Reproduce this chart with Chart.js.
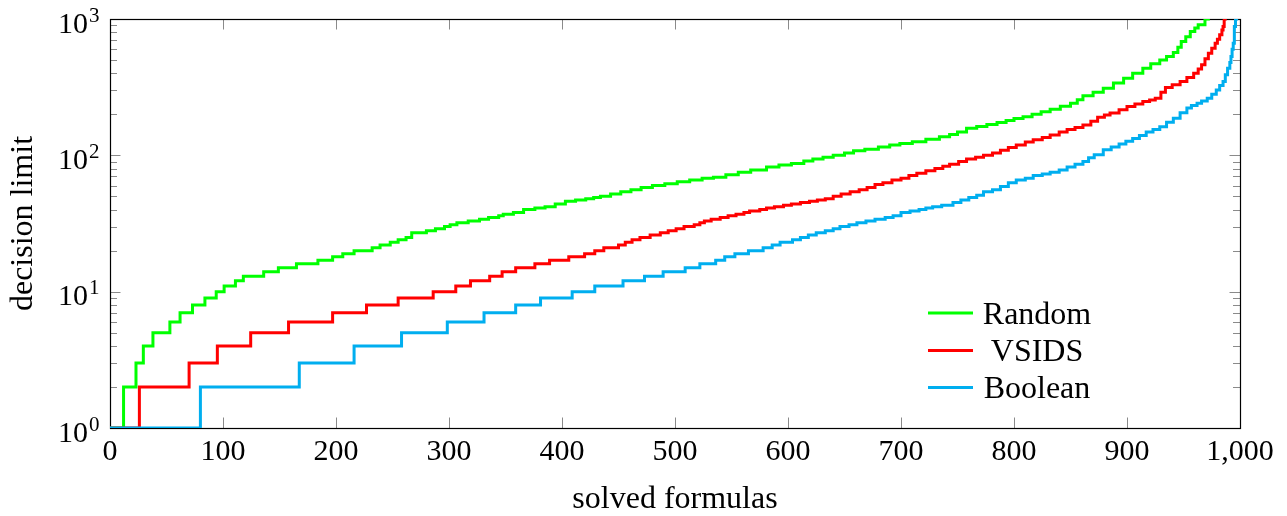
<!DOCTYPE html>
<html>
<head>
<meta charset="utf-8">
<script src="https://cdn.jsdelivr.net/npm/chart.js@4/dist/chart.umd.min.js"></script>
<style>
  html, body { margin: 0; padding: 0; background: #fff; }
  #wrap { width: 1287px; height: 516px; }
</style>
</head>
<body>
<div id="wrap"><canvas id="c" width="1287" height="516"></canvas></div>
<script>
// Solved-formula counts (x) at which each decision limit level (y) is reached.
const randomX = [0,12,23,29.5,38,53,62,73,84,94,101,111,118,136,149,165,184,197,206,216,232,239,248,255,262,267,280,288,296,301,307,317,327,335,344,348,357,366,376,385,394,403,412,421,428,434,443,452,461,470,480,491,502,513,524,534,545,556,567,581,592,603,614,622,631,640,650,658,668,680,690,699,710,722,734,743,750,758,767,776,785,793,800,808,816,824,832,841,850,856,861,870,879,888,897,905,914,921,929,935,941,945,948,952,956,960,963,969,972];
const randomY = [1,2,3,4,5,6,7,8,9,10,11,12,13,14,15,16,17,18,19,20,21,22,23,24,25,27,28,29,30,31,32,33,34,35,36,37,38,40,41,42,44,46,47,48,49,50,52,54,56,58,60,62,64,66,68,69,72,75,78,82,85,87,91,94,97,100,104,108,111,115,119,122,126,131,137,142,148,158,163,168,174,180,186,192,200,209,218,229,241,256,273,290,311,340,368,400,436,470,501,530,567,620,683,740,809,860,906,1000,1100];

const vsidsX = [0,26,70,95,124.5,158,197,227,255,286,306,319,336,347,359,376,389,406,420,429,437,450,456,462,469,478,487,494,501,508,517,522,526,532,540,547,554,561,566,575,581,588,596,603,611,619,626,633,640,647,655,663,670,677,684,692,700,707,714,722,730,737,743,751,758,766,773,781,788,795,802,810,817,825,832,840,847,854,861,868,874,880,885,893,900,907,914,920,925,930,934,940,947,953,959,963,966,969,972,975,978,980,982,984,985,986,987];
const vsidsY = [1,2,3,4,5,6,7,8,9,10,11,12,13,14,15,16,17,18,19,20,21,22,23,24,25,26,27,28,29,30,31,32,33,34,35,36,37,38,39,40,41,42,43,44,45,46,47,48,50,52,54,56,58,61,63,66,68,71,74,77,80,83,86,90,94,97,100,104,109,114,119,125,130,135,141,148,155,160,167,178,190,198,204,216,228,238,248,255,262,290,315,330,348,373,400,430,461,510,561,610,664,710,765,830,880,1000,1100];

const booleanX = [0,80,167.5,216,258,298.5,331,359,381,409,429,454,473,489.5,509,522,536,544,553,565,578,586,593,604,611,618,625,633,640,646,654,661,669,677,686,693,700,708,716,722,728,736,746,753,760,767,773,781,788,795,802,810,817,825,832,840,847,854,861,866,871,879,886,893,899,905,911,917,923,929,935,941,947,953,957,962,966,971,975,979,982,985,987,989,991,992,993,994,995,996,997];
const booleanY = [1,2,3,4,5,6,7,8,9,10,11,12,13,14,15,16,17,18,19,20,21,22,23,24,25,26,27,28,29,30,31,32,33,34,35,36,38,39,40,41,42,43,45,47,49,51,54,56,59,63,66,68,71,73,75,78,82,86,90,96,101,110,115,121,127,133,140,148,155,162,175,187,205,222,232,241,250,262,280,302,325,348,390,436,480,530,600,664,880,1000,1100];

const seriesNames = ['Random', 'VSIDS', 'Boolean'];
const seriesColors = ['#00ff00', '#ff0000', '#00aeef'];

// Axis ticks
const xTickValues = [0,100,200,300,400,500,600,700,800,900,1000];
const yTickExponents = [0,1,2,3];

const FONT = "'Liberation Serif', 'DejaVu Serif', serif";

function pairs(xs, ys) { return xs.map((x, i) => ({ x, y: ys[i] })); }

function lineSet(i, xs, ys) {
  return {
    label: seriesNames[i],
    data: pairs(xs, ys),
    borderColor: seriesColors[i],
    backgroundColor: seriesColors[i],
    borderWidth: 3,
    pointRadius: 0,
    stepped: 'before',
    fill: false,
    order: 2 - i
  };
}

// Box frame, inward ticks, superscript log labels and the legend
const axisDecor = {
  id: 'axisDecor',
  beforeDatasetsDraw(chart) {
    const { ctx, chartArea: a, scales: { x, y } } = chart;
    ctx.save();
    ctx.lineWidth = 1;
    ctx.strokeStyle = '#8a8a8a';
    ctx.beginPath();
    for (const v of xTickValues) {
      const px = Math.round(x.getPixelForValue(v)) + 0.5;
      ctx.moveTo(px, a.bottom); ctx.lineTo(px, a.bottom - 10.5);
      ctx.moveTo(px, a.top); ctx.lineTo(px, a.top + 10.5);
    }
    for (const e of yTickExponents) {
      const py = Math.round(y.getPixelForValue(Math.pow(10, e))) + 0.5;
      ctx.moveTo(a.left, py); ctx.lineTo(a.left + 10.5, py);
      ctx.moveTo(a.right, py); ctx.lineTo(a.right - 10.5, py);
      if (e < yTickExponents[yTickExponents.length - 1]) {
        for (let m = 2; m <= 9; m++) {
          const q = Math.round(y.getPixelForValue(m * Math.pow(10, e))) + 0.5;
          ctx.moveTo(a.left, q); ctx.lineTo(a.left + 7, q);
          ctx.moveTo(a.right, q); ctx.lineTo(a.right - 7, q);
        }
      }
    }
    ctx.stroke();
    ctx.strokeStyle = '#000';
    ctx.lineWidth = 1.2;
    ctx.strokeRect(a.left + 0.5, a.top + 0.5, a.right - a.left, a.bottom - a.top);
    ctx.restore();
  },
  afterDraw(chart) {
    const { ctx, chartArea: a, scales: { y } } = chart;
    ctx.save();
    ctx.fillStyle = '#000';
    // y tick labels: 10 with superscript exponent
    for (const e of yTickExponents) {
      const py = y.getPixelForValue(Math.pow(10, e));
      ctx.font = `30px ${FONT}`;
      ctx.textAlign = 'right';
      ctx.textBaseline = 'alphabetic';
      ctx.fillText('10', a.left - 22, py + 13.5);
      ctx.font = `21px ${FONT}`;
      ctx.textAlign = 'left';
      ctx.fillText(String(e), a.left - 21, py + 2.5);
    }
    // legend
    const rowY = [a.bottom - 115, a.bottom - 77.5, a.bottom - 40.5];
    const sx0 = a.right - 312, sx1 = a.right - 267, tx = a.right - 203;
    ctx.font = `32px ${FONT}`;
    ctx.textAlign = 'center';
    ctx.textBaseline = 'alphabetic';
    seriesNames.forEach((name, i) => {
      ctx.strokeStyle = seriesColors[i];
      ctx.lineWidth = 3;
      ctx.beginPath();
      ctx.moveTo(sx0, rowY[i]); ctx.lineTo(sx1, rowY[i]);
      ctx.stroke();
      ctx.fillText(name, tx, rowY[i] + 10.5);
    });
    ctx.restore();
  }
};

new Chart(document.getElementById('c'), {
  type: 'line',
  data: {
    datasets: [
      lineSet(0, randomX, randomY),
      lineSet(1, vsidsX, vsidsY),
      lineSet(2, booleanX, booleanY)
    ]
  },
  options: {
    responsive: false,
    animation: false,
    layout: { padding: { left: 0, right: 47, top: 19, bottom: 0 } },
    plugins: { legend: { display: false }, tooltip: { enabled: false } },
    scales: {
      x: {
        type: 'linear', min: 0, max: 1000,
        afterBuildTicks: s => { s.ticks = xTickValues.map(v => ({ value: v })); },
        ticks: {
          callback: v => v.toLocaleString('en-US'),
          color: '#000', font: { family: FONT, size: 30 },
          padding: 6, maxRotation: 0, autoSkip: false
        },
        grid: { display: false, drawTicks: false },
        border: { display: false },
        title: {
          display: true, text: 'solved formulas', color: '#000',
          font: { family: FONT, size: 32, lineHeight: 1.05 }, padding: { top: 0, bottom: 0 }
        },
        afterFit: s => { s.height = 88; }
      },
      y: {
        type: 'logarithmic', min: 1, max: 1000,
        ticks: { display: false },
        grid: { display: false, drawTicks: false },
        border: { display: false },
        title: {
          display: true, text: 'decision limit', color: '#000',
          font: { family: FONT, size: 32 }, padding: { top: 4, bottom: 0 }
        },
        afterFit: s => { s.width = 110; }
      }
    }
  },
  plugins: [axisDecor]
});
</script>
</body>
</html>
